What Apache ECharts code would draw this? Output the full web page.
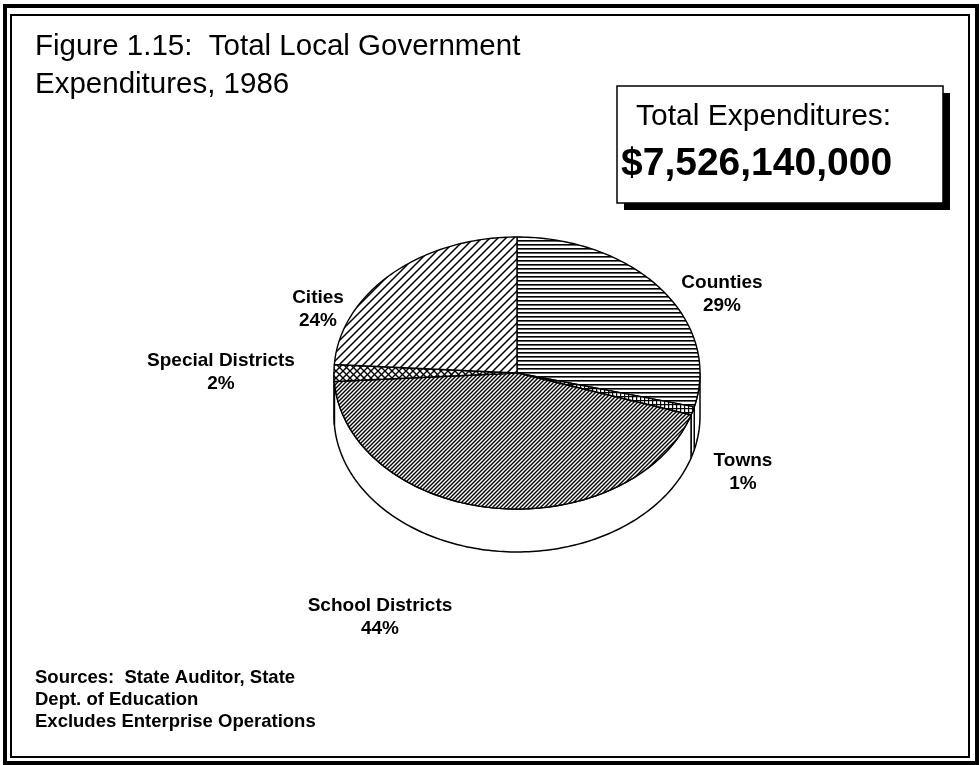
<!DOCTYPE html>
<html>
<head>
<meta charset="utf-8">
<script src="https://cdn.jsdelivr.net/npm/echarts@6/dist/echarts.min.js"></script>
<style>
html,body{margin:0;padding:0;background:#fff;}
#chart{width:980px;height:765px;}
</style>
</head>
<body>
<div id="chart"></div>
<script>
// ---- data ----
const categories = ['Counties', 'Towns', 'School Districts', 'Special Districts', 'Cities'];
const shares = [29, 1, 44, 2, 24];
const titleLines = ['Figure 1.15:  Total Local Government', 'Expenditures, 1986'];
const totalLabel = 'Total Expenditures:';
const totalValue = '$7,526,140,000';
const notes = ['Sources:  State Auditor, State', 'Dept. of Education', 'Excludes Enterprise Operations'];

// ---- patterns ----
function mkPattern(w, h, draw) {
  const c = document.createElement('canvas');
  c.width = w; c.height = h;
  const ctx = c.getContext('2d');
  ctx.fillStyle = '#fff';
  ctx.fillRect(0, 0, w, h);
  ctx.strokeStyle = '#000';
  ctx.fillStyle = '#000';
  draw(ctx, w, h);
  return { image: c, repeat: 'repeat' };
}
function diag(ctx, s, lw) {
  ctx.lineWidth = lw;
  ctx.beginPath();
  ctx.moveTo(-1, s + 1); ctx.lineTo(s + 1, -1);
  ctx.moveTo(-1, 1); ctx.lineTo(1, -1);
  ctx.moveTo(s - 1, s + 1); ctx.lineTo(s + 1, s - 1);
  ctx.stroke();
}
function anti(ctx, s, lw) {
  ctx.lineWidth = lw;
  ctx.beginPath();
  ctx.moveTo(-1, -1); ctx.lineTo(s + 1, s + 1);
  ctx.moveTo(s - 1, -1); ctx.lineTo(s + 1, 1);
  ctx.moveTo(-1, s - 1); ctx.lineTo(1, s + 1);
  ctx.stroke();
}
const patterns = {
  'Counties': mkPattern(4, 4, (ctx, w) => { ctx.fillRect(0, 0, w, 1.6); }),
  'Towns': mkPattern(4, 4, (ctx, w, h) => { ctx.fillRect(0, 0, w, 1.2); ctx.fillRect(0, 0, 1.2, h); }),
  'School Districts': mkPattern(4, 4, (ctx, s) => diag(ctx, s, 1.4)),
  'Special Districts': mkPattern(7, 7, (ctx, s) => { diag(ctx, s, 1.4); anti(ctx, s, 1.4); }),
  'Cities': mkPattern(8, 8, (ctx, s) => diag(ctx, s, 1.5))
};

// ---- geometry ----
const CX = 517, CY = 373, RX = 183, RY = 136, DEPTH = 43;
const total = shares.reduce((a, b) => a + b, 0);
function pt(a, dy) { return [CX + RX * Math.sin(a), CY - RY * Math.cos(a) + (dy || 0)]; }
function arc(a0, a1, dy) {
  const n = Math.max(2, Math.ceil(Math.abs(a1 - a0) / 0.02));
  const out = [];
  for (let k = 0; k <= n; k++) out.push(pt(a0 + (a1 - a0) * k / n, dy));
  return out;
}

const chart = echarts.init(document.getElementById('chart'), null, { renderer: 'canvas' });

const labelPos = {
  'Counties': [722, 294],
  'Towns': [743, 472],
  'School Districts': [380, 617],
  'Special Districts': [221, 372],
  'Cities': [318, 309]
};

const FONT = '"Liberation Sans", Arial, Helvetica, sans-serif';

const graphics = [
  { type: 'rect', shape: { x: 5, y: 6, width: 972, height: 757 }, style: { fill: 'none', stroke: '#000', lineWidth: 4 }, silent: true },
  { type: 'rect', shape: { x: 11, y: 15, width: 958, height: 742 }, style: { fill: 'none', stroke: '#000', lineWidth: 2 }, silent: true },
  // box shadow and box
  { type: 'rect', shape: { x: 624, y: 93, width: 326, height: 117 }, style: { fill: '#000' }, z: 10 },
  { type: 'rect', shape: { x: 617, y: 86, width: 326, height: 117 }, style: { fill: '#fff', stroke: '#000', lineWidth: 1.5 }, z: 11 },
  { type: 'text', left: 636, top: 102, z: 12, style: { text: totalLabel, font: 'normal 30px ' + FONT, fill: '#000' } },
  { type: 'text', left: 621, top: 145, z: 12, style: { text: totalValue, font: 'bold 39px ' + FONT, fill: '#000' } },
  { type: 'text', left: 35, top: 667, z: 12, style: { text: notes.join('\n'), font: 'bold 18.5px ' + FONT, lineHeight: 22, fill: '#000' } }
];
categories.forEach((c, i) => {
  const p = labelPos[c];
  graphics.push({
    type: 'text', x: p[0], y: p[1], z: 12,
    style: { text: c + '\n' + shares[i] + '%', font: 'bold 19px ' + FONT, lineHeight: 23, fill: '#000', align: 'center', verticalAlign: 'middle' }
  });
});

chart.setOption({
  animation: false,
  backgroundColor: '#fff',
  title: {
    text: titleLines.join('\n'),
    left: 30, top: 23,
    textStyle: { fontFamily: FONT, fontSize: 29.5, fontWeight: 'normal', color: '#000', lineHeight: 38 }
  },
  graphic: graphics,
  series: [{
    type: 'custom',
    coordinateSystem: 'none',
    data: categories.map((c, i) => ({ name: c, value: shares[i] })),
    renderItem: function (params, api) {
      const i = params.dataIndex;
      let before = 0;
      for (let k = 0; k < i; k++) before += shares[k];
      const a0 = before / total * Math.PI * 2;
      const a1 = (before + shares[i]) / total * Math.PI * 2;
      const children = [];
      const w0 = Math.max(a0, Math.PI / 2), w1 = Math.min(a1, Math.PI * 1.5);
      if (w1 > w0) {
        const top = arc(w0, w1, 0);
        const bot = arc(w1, w0, DEPTH);
        children.push({
          type: 'polygon', shape: { points: top.concat(bot) },
          style: { fill: '#fff', stroke: '#000', lineWidth: 1.5, lineJoin: 'round' }
        });
      }
      const face = [[CX, CY]].concat(arc(a0, a1, 0));
      children.push({
        type: 'polygon', shape: { points: face },
        style: { fill: patterns[categories[i]], stroke: '#000', lineWidth: 1.4, lineJoin: 'round' }
      });
      return { type: 'group', children: children };
    }
  }]
});
</script>
</body>
</html>
